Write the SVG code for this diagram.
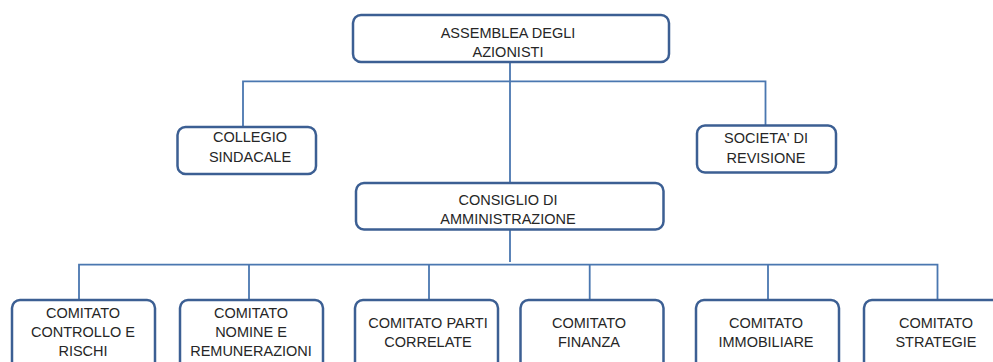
<svg xmlns="http://www.w3.org/2000/svg" width="993" height="362" viewBox="0 0 993 362">
<style>
.box{fill:#fff;stroke:#3c5f93;stroke-width:2.5}
.con{fill:none;stroke:#4a77b0;stroke-width:1.8}
text{font-family:"Liberation Sans",Arial,sans-serif;font-size:14.5px;fill:#262626;text-anchor:middle}
</style>
<rect width="993" height="362" fill="#fff"/>
<g id="connectors">
<path class="con" d="M510,62 V183"/>
<path class="con" d="M243,127 V81.3 H765.5 V125.5"/>
<path class="con" d="M510,229.5 V262"/>
<path class="con" d="M79,300 V264.7 H937.5 V300"/>
<path class="con" d="M249,264.7 V300"/>
<path class="con" d="M429,264.7 V300"/>
<path class="con" d="M589.7,264.7 V300"/>
<path class="con" d="M768,264.7 V300"/>
</g>
<g id="assemblea">
<rect class="box" x="353" y="15" width="316" height="47" rx="8"/>
<text x="508" y="38">ASSEMBLEA DEGLI</text>
<text x="508" y="57">AZIONISTI</text>
</g>
<g id="collegio">
<rect class="box" x="177.5" y="127" width="138.5" height="47" rx="8"/>
<text x="250" y="142">COLLEGIO</text>
<text x="250" y="162">SINDACALE</text>
</g>
<g id="societa">
<rect class="box" x="697" y="125.5" width="139" height="47" rx="8"/>
<text x="766" y="143">SOCIETA' DI</text>
<text x="766" y="163">REVISIONE</text>
</g>
<g id="consiglio">
<rect class="box" x="356" y="183" width="307.5" height="46.5" rx="8"/>
<text x="508" y="205">CONSIGLIO DI</text>
<text x="508" y="224">AMMINISTRAZIONE</text>
</g>
<g id="controllo">
<rect class="box" x="12" y="300" width="143" height="80" rx="8"/>
<text x="83" y="318">COMITATO</text>
<text x="83" y="337">CONTROLLO E</text>
<text x="83" y="356">RISCHI</text>
</g>
<g id="nomine">
<rect class="box" x="180" y="300" width="143" height="80" rx="8"/>
<text x="251" y="318">COMITATO</text>
<text x="251" y="337">NOMINE E</text>
<text x="251" y="356">REMUNERAZIONI</text>
</g>
<g id="parti">
<rect class="box" x="355" y="300" width="143" height="80" rx="8"/>
<text x="428" y="328">COMITATO PARTI</text>
<text x="428" y="347">CORRELATE</text>
</g>
<g id="finanza">
<rect class="box" x="520.5" y="300" width="143" height="80" rx="8"/>
<text x="589" y="328">COMITATO</text>
<text x="589" y="347">FINANZA</text>
</g>
<g id="immobiliare">
<rect class="box" x="696" y="300" width="143" height="80" rx="8"/>
<text x="766" y="328">COMITATO</text>
<text x="766" y="347">IMMOBILIARE</text>
</g>
<g id="strategie">
<rect class="box" x="864" y="300" width="143" height="80" rx="8"/>
<text x="936" y="328">COMITATO</text>
<text x="936" y="347">STRATEGIE</text>
</g>
</svg>
